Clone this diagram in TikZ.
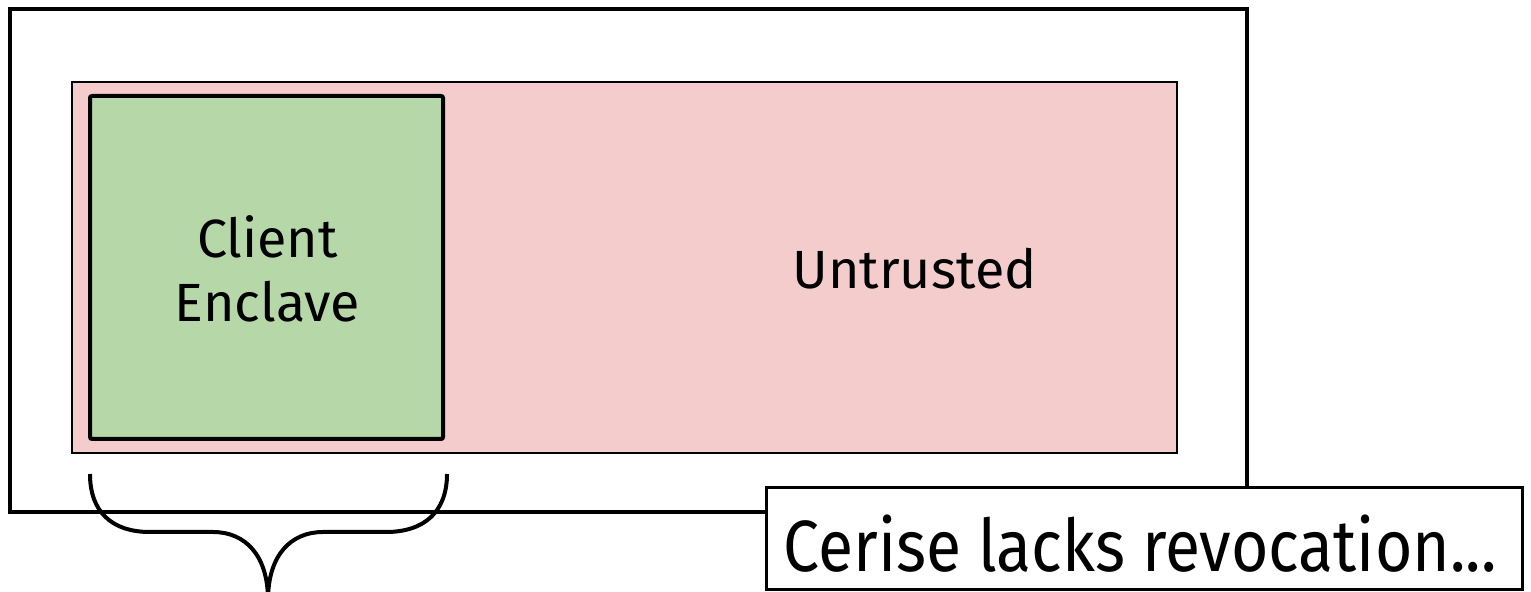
\documentclass[tikz,border=0pt]{standalone}
\usepackage{fontspec}
\setmainfont{Fira Sans}
\newfontfamily\notefont[FakeStretch=0.885]{Fira Sans}
\definecolor{untrustedpink}{HTML}{F4CCCC}
\definecolor{enclavegreen}{HTML}{B6D7A8}
\begin{document}
\begin{tikzpicture}[x=0.5pt,y=-0.5pt,
    region/.style={draw,inner sep=0pt,outer sep=0pt},
    bigtext/.style={font=\fontsize{26.9}{32}\selectfont,align=center}]
    \useasboundingbox (0,0) rectangle (1531,592);
    % machine and its untrusted part
    \node[region,line width=2pt,minimum width=618.5pt,minimum height=251.5pt] (machine) at (628.5,260.5) {};
    \node[region,fill=untrustedpink,line width=0.75pt,minimum width=552.5pt,minimum height=185.5pt] (untrusted) at (624.5,267.5) {};
    \node[region,fill=enclavegreen,line width=2pt,rounded corners=1pt,minimum width=176.5pt,minimum height=171.5pt] (enclave) at (266.5,267.5) {};
    \node[bigtext] (enclavetext) at (267.5,268.5) {Client\\Enclave};
    \node[bigtext] (untrustedtext) at (914.5,269) {Untrusted};
    % brace under the enclave
    \draw[line width=2pt] (90,474) .. controls (90,512) and (112,532) .. (150,532) -- (213,532)
        .. controls (245,532) and (268,555) .. (268,600);
    \draw[line width=2pt] (447,474) .. controls (447,512) and (424,532) .. (386,532) -- (323,532)
        .. controls (291,532) and (268,555) .. (268,600);
    % note box
    \node[region,fill=white,line width=1.5pt,minimum width=378pt,minimum height=51pt] (note) at (1144,539) {};
    \node[font=\notefont\fontsize{36.3}{40}\selectfont,inner sep=0pt] (notetext) at (1140,544) {Cerise lacks revocation...};
\end{tikzpicture}
\end{document}
